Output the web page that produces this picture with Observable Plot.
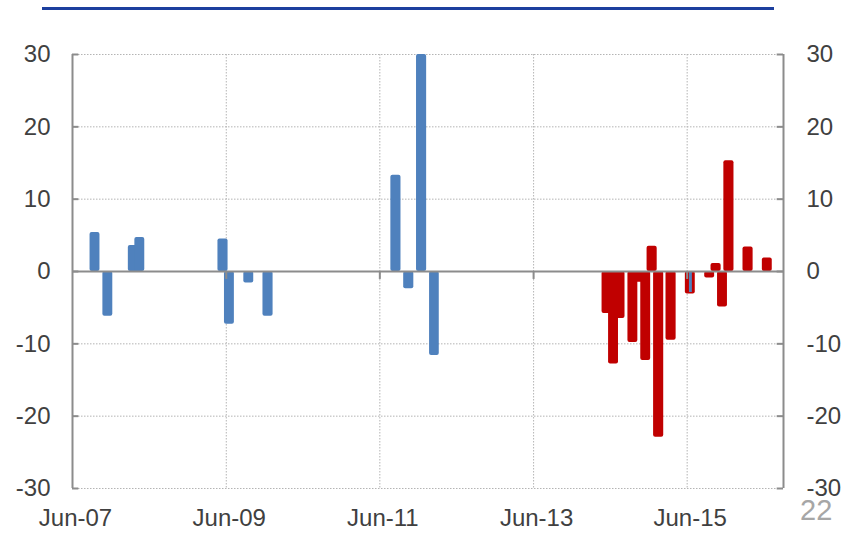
<!DOCTYPE html>
<html>
<head>
<meta charset="utf-8">
<script src="https://cdn.jsdelivr.net/npm/d3@7"></script>
<script src="https://cdn.jsdelivr.net/npm/@observablehq/plot@0.6"></script>
<style>
  html, body { margin: 0; padding: 0; background: #fff; }
  #wrap { position: relative; width: 846px; height: 533px; overflow: hidden; }
  #topline { position: absolute; left: 42px; top: 7px; width: 732px; height: 3px; background: #1c3f9e; }
  #page { position: absolute; left: 800px; top: 494px; font-family: "Liberation Sans Narrow", "Liberation Sans", Arial, sans-serif; font-size: 29px; color: #a6a6a6; font-weight: 300; }
  #chart { position: absolute; left: 0; top: 0; }
</style>
</head>
<body>
<div id="wrap">
  <div id="chart"></div>
  <div id="topline"></div>
  <div id="page">22</div>
</div>
<script>
// Data (month, value)
const blueMonths = ["2007-09","2007-11","2008-03","2008-04","2009-05","2009-06","2009-09","2009-12","2011-08","2011-10","2011-12","2012-02"];
const blueValues = [5.4, -6.2, 3.6, 4.7, 4.5, -7.3, -1.6, -6.2, 13.3, -2.4, 30, -11.6];
const redMonths = ["2014-05","2014-06","2014-07","2014-09","2014-10","2014-11","2014-12","2015-01","2015-03","2015-06","2015-09","2015-10","2015-11","2015-12","2016-03","2016-06"];
const redValues = [-5.8, -12.8, -6.5, -9.8, -1.5, -12.3, 3.5, -22.9, -9.5, -3.1, -0.9, 1.1, -4.9, 15.3, 3.4, 1.85];
const thinMonths = ["2015-06"];
const thinValues = [-2.9];
const yTicks = [-30, -20, -10, 0, 10, 20, 30];
const xTickMonths = ["2007-06","2009-06","2011-06","2013-06","2015-06"];
const xTickLabels = ["Jun-07","Jun-09","Jun-11","Jun-13","Jun-15"];
const domainStart = "2007-06";
const domainEnd = "2016-09";

const parse = s => { const [y, m] = s.split("-").map(Number); return new Date(Date.UTC(y, m - 1, 1)); };
const rows = (months, values) => months.map((m, i) => ({ d0: parse(m), d1: d3.utcMonth.offset(parse(m), 1), v: values[i] }));
const blue = rows(blueMonths, blueValues);
const red = rows(redMonths, redValues);
const thin = rows(thinMonths, thinValues);
const xTicks = xTickMonths.map(parse);
const x0 = parse(domainStart), x1 = parse(domainEnd);
const labelOf = new Map(xTicks.map((d, i) => [+d, xTickLabels[i]]));

const gray = "#8c8c8c";
const grid = "#b4b4b4";

const chart = Plot.plot({
  width: 846,
  height: 533,
  marginLeft: 72,
  marginRight: 63,
  marginTop: 54,
  marginBottom: 45,
  style: { fontFamily: "'Liberation Sans', Arial, sans-serif", fontSize: "24px", color: "#404040", background: "transparent" },
  x: { type: "utc", domain: [x0, x1] },
  y: { domain: [-30, 30] },
  marks: [
    // horizontal grid
    Plot.ruleY(yTicks.filter(d => d !== 0), { y: d => d, stroke: grid, strokeDasharray: "1.5,1.5", strokeWidth: 1 }),
    // vertical grid
    Plot.ruleX(xTicks.slice(1), { x: d => d, stroke: grid, strokeDasharray: "1.5,1.5", strokeWidth: 1 }),
    // bars
    Plot.rect(blue, { x1: "d0", x2: "d1", y1: 0, y2: "v", fill: "#4f81bd", insetLeft: -1.8, insetRight: -1.8, rx: 2 }),
    Plot.rect(red, { x1: "d0", x2: "d1", y1: 0, y2: "v", fill: "#c00000", insetLeft: -1.8, insetRight: -1.8, rx: 2 }),
    Plot.rect(thin, { x1: "d0", x2: "d1", y1: 0, y2: "v", fill: "#4f81bd", insetLeft: 2.3, insetRight: 1.1 }),
    // zero line and x ticks
    Plot.ruleY([0], { stroke: gray, strokeWidth: 2.2 }),
    Plot.ruleX(xTicks.slice(1), { x: d => d, y1: 0, y2: -1.1, stroke: gray, strokeWidth: 2 }),
    // side axes
    Plot.ruleX([x0, x1], { x: d => d, y1: -30, y2: 30, stroke: gray, strokeWidth: 2 }),
    Plot.ruleY(yTicks, { y: d => d, x1: x0, x2: d3.utcDay.offset(x0, 30), stroke: gray, strokeWidth: 2 }),
    Plot.ruleY(yTicks, { y: d => d, x1: d3.utcDay.offset(x1, -30), x2: x1, stroke: gray, strokeWidth: 2 }),
    // axes labels
    Plot.axisY({ anchor: "left", label: null, ticks: yTicks, tickSize: 0, tickPadding: 22, tickFormat: d => String(d), fontSize: 24 }),
    Plot.axisY({ anchor: "right", label: null, ticks: yTicks, tickSize: 0, tickPadding: 23, tickFormat: d => String(d), fontSize: 24 }),
    Plot.axisX({ anchor: "bottom", label: null, ticks: xTicks, tickSize: 0, tickPadding: 20, tickFormat: d => labelOf.get(+d), fontSize: 24, dx: 3 })
  ]
});
document.getElementById("chart").appendChild(chart);
</script>
</body>
</html>
